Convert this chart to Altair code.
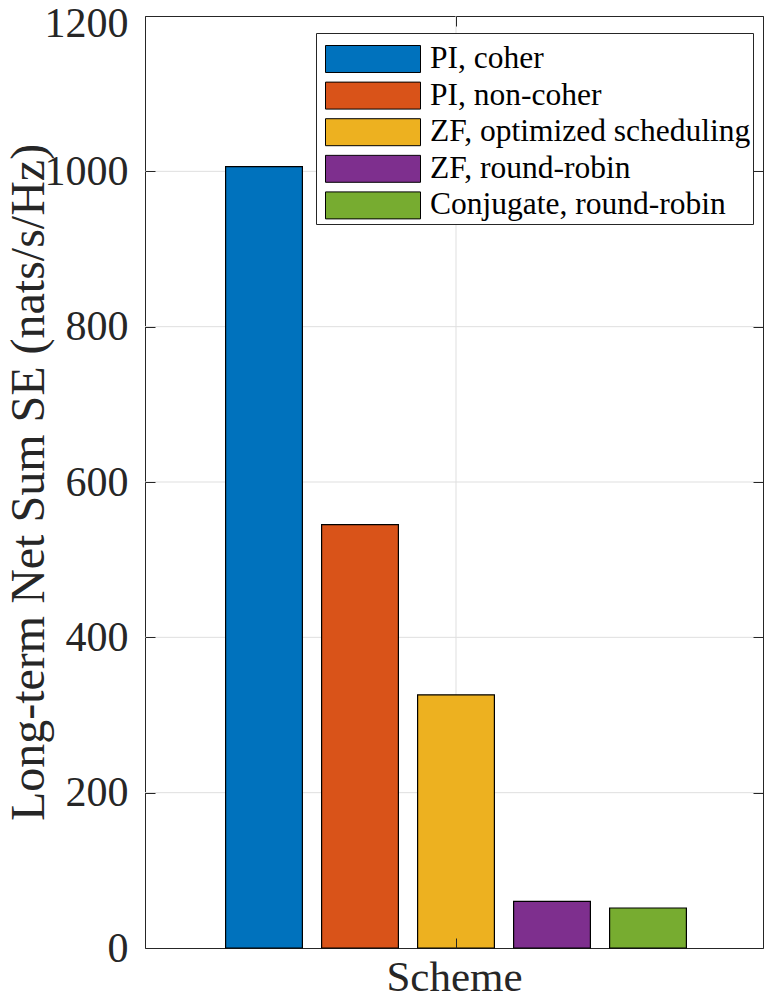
import altair as alt
import pandas as pd

# ---- data ----
series = ["PI, coher", "PI, non-coher", "ZF, optimized scheduling",
          "ZF, round-robin", "Conjugate, round-robin"]
values = [1006, 545, 326, 60, 51.5]
colors = ["#0072BD", "#D95319", "#EDB120", "#7E2F8E", "#77AC30"]
y_ticks = [0, 200, 400, 600, 800, 1000, 1200]
group_name = "Scheme"

df = pd.DataFrame({"series": series, "value": values, "group": [group_name] * len(series)})
hgrid_df = pd.DataFrame({"tick": y_ticks[1:-1]})
vgrid_df = pd.DataFrame({"group": [group_name]})

FONT = "Times New Roman"
TXT = "#262626"
GRID = "#dfdfdf"

yscale = alt.Scale(domain=[y_ticks[0], y_ticks[-1]], nice=False, zero=True)
xscale = alt.Scale(paddingInner=0, paddingOuter=0.14375, align=0.5145)

hgrid = alt.Chart(hgrid_df).mark_rule(color=GRID, strokeWidth=1).encode(
    y=alt.Y("tick:Q", scale=yscale,
            axis=alt.Axis(orient="right", values=y_ticks, labels=False, domain=False,
                          grid=False, ticks=True, tickSize=10, offset=-10,
                          tickColor=TXT, tickWidth=1, title=None, zindex=1))
)

vgrid = alt.Chart(vgrid_df).mark_rule(color=GRID, strokeWidth=1).encode(
    x=alt.X("group:N", scale=xscale,
            axis=alt.Axis(orient="top", labels=False, domain=False, grid=False,
                          ticks=True, tickSize=10, offset=-10, tickColor=TXT,
                          tickWidth=1, title=None, zindex=1))
)

bars = alt.Chart(df).mark_bar(stroke="black", strokeWidth=1.2, opacity=1).encode(
    x=alt.X("group:N", scale=xscale,
            axis=alt.Axis(orient="bottom", labels=False, domain=False, grid=False,
                          ticks=True, tickSize=10, offset=-10, tickColor=TXT,
                          tickWidth=1, title="Scheme", titleFont=FONT,
                          titleFontSize=43, titleFontWeight="normal",
                          titleColor=TXT, titlePadding=8, zindex=1)),
    xOffset=alt.XOffset("series:N", sort=series,
                        scale=alt.Scale(paddingInner=0.2, paddingOuter=0.1)),
    y=alt.Y("value:Q", scale=yscale,
            axis=alt.Axis(orient="left", values=y_ticks, format="d",
                          labelFont=FONT, labelFontSize=42, labelColor=TXT,
                          labelPadding=17, labelFlush=False, labelOverlap=False,
                          labelOffset={"condition": {"test": "datum.value === 1200", "value": 7}, "value": 0},
                          domain=False, grid=False, ticks=True, tickSize=10,
                          offset=-10, tickColor=TXT, tickWidth=1,
                          title="Long-term Net Sum SE (nats/s/Hz)",
                          titleFont=FONT, titleFontSize=48,
                          titleFontWeight="normal", titleColor=TXT,
                          titlePadding=-9, zindex=1)),
    color=alt.Color("series:N", sort=series,
                    scale=alt.Scale(domain=series, range=colors),
                    legend=alt.Legend(orient="none", legendX=171, legendY=17,
                                      title=" ", titleFontSize=5,
                                      titlePadding=4,
                                      symbolType="M-1,-0.284H1V0.284H-1Z",
                                      symbolSize=9025, symbolStrokeColor="black",
                                      symbolStrokeWidth=1, symbolOpacity=1,
                                      symbolOffset=6.5,
                                      labelFont=FONT, labelFontSize=31.5,
                                      labelColor="black", labelOffset=9,
                                      labelLimit=500, clipHeight=29,
                                      rowPadding=4.6, padding=2.5,
                                      strokeColor=TXT, fillColor="white",
                                      zindex=2)),
)

chart = alt.layer(hgrid, vgrid, bars).resolve_axis(
    x="independent", y="independent"
).properties(
    width=618, height=932,
    padding={"left": 137, "top": 8, "right": 1, "bottom": 49},
    autosize=alt.AutoSizeParams(type="none"),
    background="white",
).configure(font=FONT).configure_axis(
    labelFont=FONT, titleFont=FONT
).configure_view(stroke=TXT, strokeWidth=1)

chart.save("out.html", embed_options={"renderer": "svg", "actions": False})
